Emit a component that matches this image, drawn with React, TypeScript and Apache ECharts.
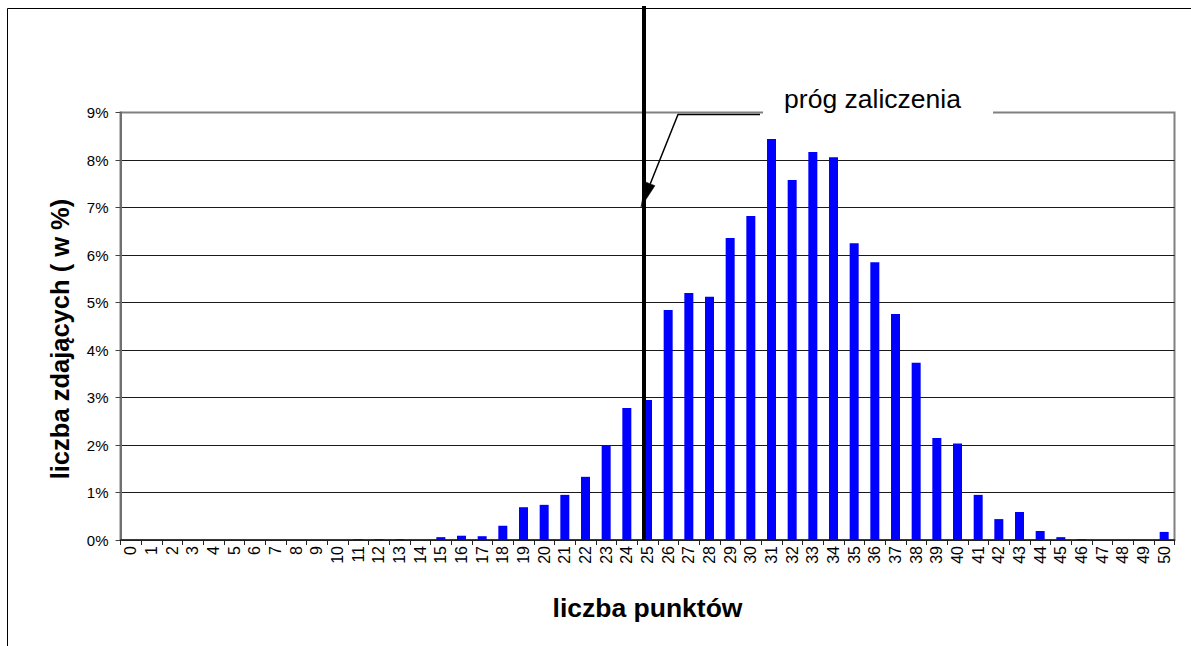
import React, { useEffect, useRef } from "react";
import * as echarts from "echarts";

const categories = [
  "0", "1", "2", "3", "4", "5", "6", "7", "8", "9", "10",
  "11", "12", "13", "14", "15", "16", "17", "18", "19", "20",
  "21", "22", "23", "24", "25", "26", "27", "28", "29", "30",
  "31", "32", "33", "34", "35", "36", "37", "38", "39", "40",
  "41", "42", "43", "44", "45", "46", "47", "48", "49", "50",
];

// share of candidates (in %) per score
const shares = [
  0, 0, 0, 0, 0, 0, 0, 0, 0, 0, 0,
  0.02, 0.02, 0.02, 0, 0.06, 0.09, 0.08, 0.3, 0.69, 0.74,
  0.95, 1.33, 1.99, 2.78, 2.95, 4.84, 5.2, 5.12, 6.36, 6.82,
  8.44, 7.58, 8.17, 8.06, 6.25, 5.85, 4.76, 3.73, 2.15, 2.03,
  0.95, 0.44, 0.59, 0.19, 0.06, 0.02, 0, 0, 0, 0.17,
];

const yTicks = [0, 1, 2, 3, 4, 5, 6, 7, 8, 9];
const xTitle = "liczba punktów";
const yTitle = "liczba zdających ( w %)";
const thresholdLabel = "próg zaliczenia";

const FONT = "Arial, 'Liberation Sans', sans-serif";

export default function App() {
  const ref = useRef<HTMLDivElement>(null);

  useEffect(() => {
    if (!ref.current) return;
    const chart = echarts.init(ref.current, undefined, { renderer: "svg" });

    const splitColors = yTicks.map((t, i) => (i === yTicks.length - 1 ? "#808080" : "#1a1a1a"));

    // arrow geometry for the callout
    const tip = [641, 207];
    const knee = [678, 114.5];
    const dx = tip[0] - knee[0];
    const dy = tip[1] - knee[1];
    const len = Math.sqrt(dx * dx + dy * dy);
    const ux = dx / len;
    const uy = dy / len;
    const headLen = 25;
    const headHalf = 5;
    const base = [tip[0] - ux * headLen, tip[1] - uy * headLen];
    const px = -uy;
    const py = ux;

    chart.setOption({
      animation: false,
      backgroundColor: "#ffffff",
      grid: {
        left: 120.5,
        right: 16.5,
        top: 112.5,
        bottom: 106,
        show: true,
        borderColor: "#808080",
        borderWidth: 2,
        backgroundColor: "transparent",
      },
      xAxis: {
        type: "category",
        data: categories,
        name: xTitle,
        nameLocation: "middle",
        nameGap: 54,
        nameTextStyle: { fontFamily: FONT, fontSize: 26.5, fontWeight: "bold", color: "#000" },
        axisLine: { show: true, lineStyle: { color: "#222", width: 1.5 } },
        axisTick: { show: true, length: 5, lineStyle: { color: "#222" } },
        axisLabel: {
          interval: 0,
          rotate: 90,
          margin: 6,
          fontFamily: FONT,
          fontSize: 16,
          color: "#000",
        },
        splitLine: { show: false },
      },
      yAxis: {
        type: "value",
        min: 0,
        max: 9,
        interval: 1,
        axisLine: { show: true, lineStyle: { color: "#707070", width: 2 } },
        axisTick: { show: true, length: 5, lineStyle: { color: "#444" } },
        axisLabel: {
          formatter: "{value}%",
          margin: 12,
          fontFamily: FONT,
          fontSize: 15,
          color: "#000",
        },
        splitLine: { show: true, lineStyle: { color: splitColors, width: 1 } },
      },
      series: [
        {
          type: "bar",
          data: shares,
          barWidth: 9,
          itemStyle: { color: "#0000ff" },
          z: 2,
        },
      ],
      graphic: [
        {
          type: "rect",
          z: 0,
          silent: true,
          shape: { x: 7.5, y: 8.5, width: 1300, height: 800 },
          style: { fill: "none", stroke: "#000", lineWidth: 1 },
        },
        {
          type: "rect",
          z: 50,
          silent: true,
          shape: { x: 763, y: 84, width: 230, height: 34 },
          style: { fill: "#ffffff", stroke: "none" },
        },
        {
          type: "text",
          z: 51,
          x: 872.5,
          y: 99,
          style: {
            text: thresholdLabel,
            fontFamily: FONT,
            fontSize: 26.5,
            fill: "#000",
            align: "center",
            verticalAlign: "middle",
          },
        },
        {
          type: "line",
          z: 52,
          silent: true,
          shape: { x1: 644, y1: 6, x2: 644, y2: 540 },
          style: { stroke: "#000", lineWidth: 4 },
        },
        {
          type: "polyline",
          z: 53,
          silent: true,
          shape: { points: [[760, 114.5], knee, base] },
          style: { stroke: "#000", lineWidth: 1.5, fill: "none" },
        },
        {
          type: "polygon",
          z: 53,
          silent: true,
          shape: {
            points: [
              tip,
              [base[0] + px * headHalf, base[1] + py * headHalf],
              [base[0] - px * headHalf, base[1] - py * headHalf],
            ],
          },
          style: { fill: "#000", stroke: "#000", lineWidth: 0.5 },
        },
        {
          type: "text",
          z: 51,
          x: 60,
          y: 339,
          rotation: Math.PI / 2,
          style: {
            text: yTitle,
            fontFamily: FONT,
            fontSize: 25.5,
            fontWeight: "bold",
            fill: "#000",
            align: "center",
            verticalAlign: "middle",
          },
        },
      ],
    });

    return () => {
      chart.dispose();
    };
  }, []);

  return (
    <div
      ref={ref}
      style={{ position: "fixed", left: 0, top: 0, width: 1191, height: 646, background: "#fff" }}
    />
  );
}
